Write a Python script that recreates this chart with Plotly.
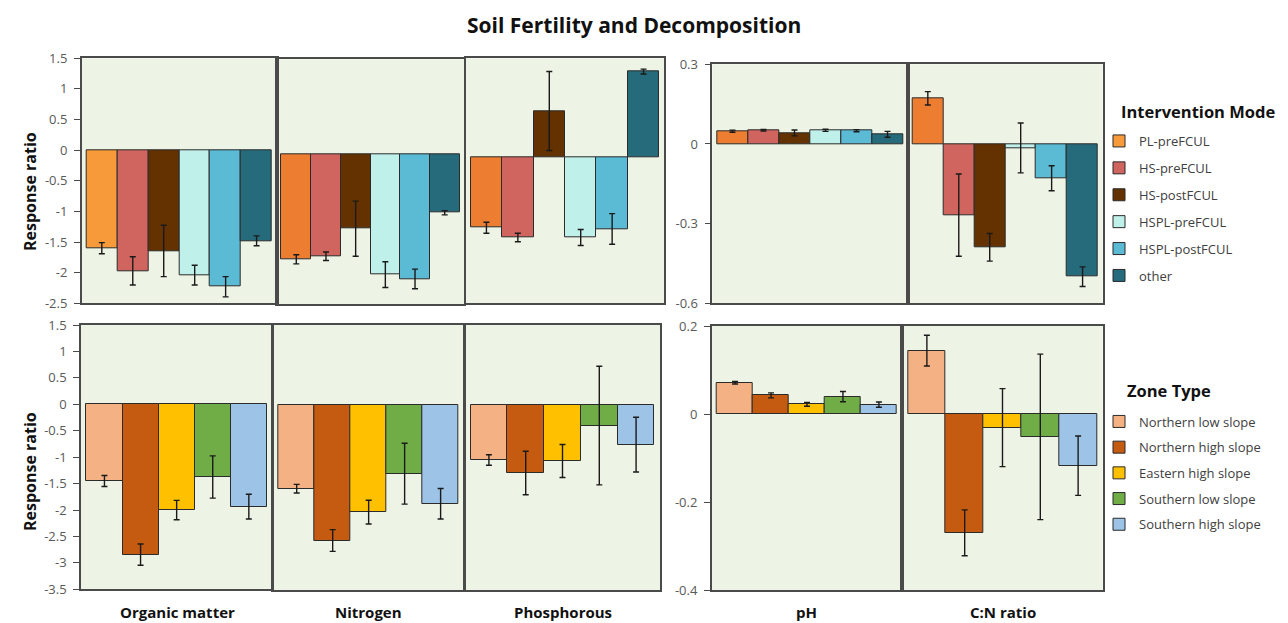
import plotly.graph_objects as go

W, H = 1288, 623

intervention_modes = ["PL-preFCUL", "HS-preFCUL", "HS-postFCUL", "HSPL-preFCUL", "HSPL-postFCUL", "other"]
intervention_colors = ["#F79A3A", "#D0645F", "#633200", "#C0F0EA", "#5BBAD4", "#266B7C"]
zone_types = ["Northern low slope", "Northern high slope", "Eastern high slope", "Southern low slope", "Southern high slope"]
zone_colors = ["#F4B183", "#C55A11", "#FFC000", "#70AD47", "#9DC3E6"]
variables = ["Organic matter", "Nitrogen", "Phosphorous", "pH", "C:N ratio"]

# Intervention mode (top row)
om_top = [-1.60, -1.97, -1.645, -2.04, -2.23, -1.48]
om_top_err = [0.09, 0.23, 0.42, 0.16, 0.165, 0.08]
n_top = [-1.71, -1.66, -1.21, -1.96, -2.03, -0.95]
n_top_err = [0.075, 0.07, 0.45, 0.21, 0.16, 0.035]
p_top = [-1.15, -1.31, 0.756, -1.31, -1.17, 1.40]
p_top_err = [0.09, 0.07, 0.645, 0.13, 0.25, 0.04]
ph_top = [0.048, 0.0515, 0.0414, 0.0515, 0.050, 0.0364]
ph_top_err = [0.004, 0.003, 0.011, 0.004, 0.004, 0.011]
cn_top = [0.172, -0.268, -0.389, -0.015, -0.129, -0.50]
cn_top_err = [0.025, 0.155, 0.052, 0.094, 0.047, 0.037]

# Zone type (bottom row)
om_bot = [-1.45, -2.844, -2.0, -1.375, -1.936]
om_bot_err = [0.104, 0.2, 0.183, 0.4, 0.233]
n_bot = [-1.589, -2.566, -2.03, -1.305, -1.873]
n_bot_err = [0.082, 0.205, 0.224, 0.574, 0.287]
p_bot = [-1.047, -1.293, -1.066, -0.397, -0.757]
p_bot_err = [0.10, 0.41, 0.31, 1.12, 0.517]
ph_bot = [0.0712, 0.0424, 0.022, 0.0394, 0.0212]
ph_bot_err = [0.003, 0.0057, 0.0045, 0.0117, 0.006]
cn_bot = [0.144, -0.27, -0.031, -0.052, -0.1175]
cn_bot_err = [0.035, 0.052, 0.0886, 0.188, 0.0675]

orange2 = "#ED7D31"
top_colors_other = [orange2] + intervention_colors[1:]

panels = [
    # values, errors, colors, (x0,x1) px, (ytop, ybot) px, yrange, ticks
    (om_top, om_top_err, intervention_colors, (81.7, 276.7), (58.3, 303.3), [-2.5, 1.5], [1.5, 1, 0.5, 0, -0.5, -1, -1.5, -2, -2.5]),
    (n_top, n_top_err, top_colors_other, (277, 464), (59.3, 304), [-2.44, 1.557], None),
    (p_top, p_top_err, top_colors_other, (466, 664), (58.3, 303.3), [-2.384, 1.616], None),
    (ph_top, ph_top_err, top_colors_other, (712.3, 907.7), (64.3, 303.3), [-0.6, 0.3], [0.3, 0, -0.3, -0.6]),
    (cn_top, cn_top_err, top_colors_other, (907.7, 1102.7), (64.3, 303.3), [-0.6, 0.3], None),
    (om_bot, om_bot_err, zone_colors, (81, 272.3), (325, 589.3), [-3.5, 1.5], [1.5, 1, 0.5, 0, -0.5, -1, -1.5, -2, -2.5, -3, -3.5]),
    (n_bot, n_bot_err, zone_colors, (273.3, 464), (325, 590), [-3.5, 1.5], None),
    (p_bot, p_bot_err, zone_colors, (465, 660), (325, 590), [-3.5, 1.5], None),
    (ph_bot, ph_bot_err, zone_colors, (711.7, 902.3), (326, 590), [-0.4, 0.2], [0.2, 0, -0.2, -0.4]),
    (cn_bot, cn_bot_err, zone_colors, (902.3, 1102.7), (326, 590), [-0.4, 0.2], None),
]

FONT = "Open Sans"
fig = go.Figure()
layout = {}
for i, (vals, errs, cols, (x0, x1), (yt, yb), yr, ticks) in enumerate(panels):
    n = i + 1
    sfx = "" if n == 1 else str(n)
    n_bars = len(vals)
    fig.add_trace(go.Bar(
        x=list(range(n_bars)), y=vals, width=1.0,
        marker=dict(color=cols, line=dict(color="#2b2b2b", width=1)),
        error_y=dict(type="data", array=errs, visible=True, color="#1a1a1a", thickness=1.4, width=3),
        showlegend=False, xaxis="x" + sfx, yaxis="y" + sfx, hoverinfo="skip",
    ))
    layout["xaxis" + sfx] = dict(
        domain=[x0 / W, x1 / W], range=[-0.65, n_bars - 0.35], anchor="y" + sfx,
        showticklabels=False, ticks="", showgrid=False, zeroline=False, automargin=False,
        showline=True, mirror=True, linecolor="#4a4a4a", linewidth=1.5, fixedrange=True,
    )
    yax = dict(
        domain=[1 - yb / H, 1 - yt / H], range=yr, anchor="x" + sfx, automargin=False,
        showgrid=False, zeroline=False, showline=True, mirror=True,
        linecolor="#4a4a4a", linewidth=1.5, fixedrange=True,
    )
    if ticks is not None:
        yax.update(tickmode="array", tickvals=ticks, ticktext=[f"{t:g}" for t in ticks],
                   ticks="outside", ticklen=6, tickcolor="#4a4a4a", tickwidth=1.3,
                   tickfont=dict(family=FONT, size=13, color="#595959"), ticklabelstandoff=4)
    else:
        yax.update(showticklabels=False, ticks="")
    layout["yaxis" + sfx] = yax

# legend entries
for name, c in zip(intervention_modes, intervention_colors):
    fig.add_trace(go.Bar(x=[None], y=[None], name=name, legendgroup=name, legend="legend",
                         marker=dict(color=c, line=dict(color="#2b2b2b", width=1))))
for name, c in zip(zone_types, zone_colors):
    fig.add_trace(go.Bar(x=[None], y=[None], name=name, legendgroup=name, legend="legend2",
                         marker=dict(color=c, line=dict(color="#2b2b2b", width=1))))

annotations = [
    dict(text="<b>Soil Fertility and Decomposition</b>", x=634 / W, y=1 - 25 / H, xref="paper", yref="paper",
         showarrow=False, font=dict(family=FONT, size=21, color="#111111"), xanchor="center", yanchor="middle"),
    dict(text="<b>Response ratio</b>", x=30 / W, y=1 - 192 / H, xref="paper", yref="paper", textangle=-90,
         showarrow=False, font=dict(family=FONT, size=16, color="#111111"), xanchor="center", yanchor="middle"),
    dict(text="<b>Response ratio</b>", x=30 / W, y=1 - 472 / H, xref="paper", yref="paper", textangle=-90,
         showarrow=False, font=dict(family=FONT, size=16, color="#111111"), xanchor="center", yanchor="middle"),
    dict(text="<b>Intervention Mode</b>", x=1119 / W, y=1 - 111 / H, xref="paper", yref="paper",
         showarrow=False, font=dict(family=FONT, size=16.5, color="#111111"), xanchor="left", yanchor="middle"),
    dict(text="<b>Zone Type</b>", x=1125 / W, y=1 - 390 / H, xref="paper", yref="paper",
         showarrow=False, font=dict(family=FONT, size=16.5, color="#111111"), xanchor="left", yanchor="middle"),
]
label_x = [177, 368, 563, 806, 1003]
for lbl, lx in zip(variables, label_x):
    annotations.append(dict(text="<b>" + lbl + "</b>", x=lx / W, y=1 - 612 / H, xref="paper", yref="paper",
                            showarrow=False, font=dict(family=FONT, size=15, color="#111111"),
                            xanchor="center", yanchor="middle"))

layout.update(
    width=W, height=H, margin=dict(l=0, r=0, t=0, b=0, autoexpand=False),
    paper_bgcolor="white", plot_bgcolor="#EDF4E6",
    barmode="overlay", bargap=0,
    annotations=annotations,
    font=dict(family=FONT),
    legend=dict(
        x=1099 / W, y=1 - 126 / H, xanchor="left", yanchor="top",
        font=dict(family=FONT, size=13, color="#404040"), tracegroupgap=7, traceorder="grouped",
        bgcolor="rgba(0,0,0,0)", itemwidth=30,
    ),
    legend2=dict(
        x=1099 / W, y=1 - 406.5 / H, xanchor="left", yanchor="top",
        font=dict(family=FONT, size=13, color="#404040"), tracegroupgap=5.8, traceorder="grouped",
        bgcolor="rgba(0,0,0,0)", itemwidth=30,
    ),
)
fig.update_layout(**layout)
fig.write_html("out.html")
